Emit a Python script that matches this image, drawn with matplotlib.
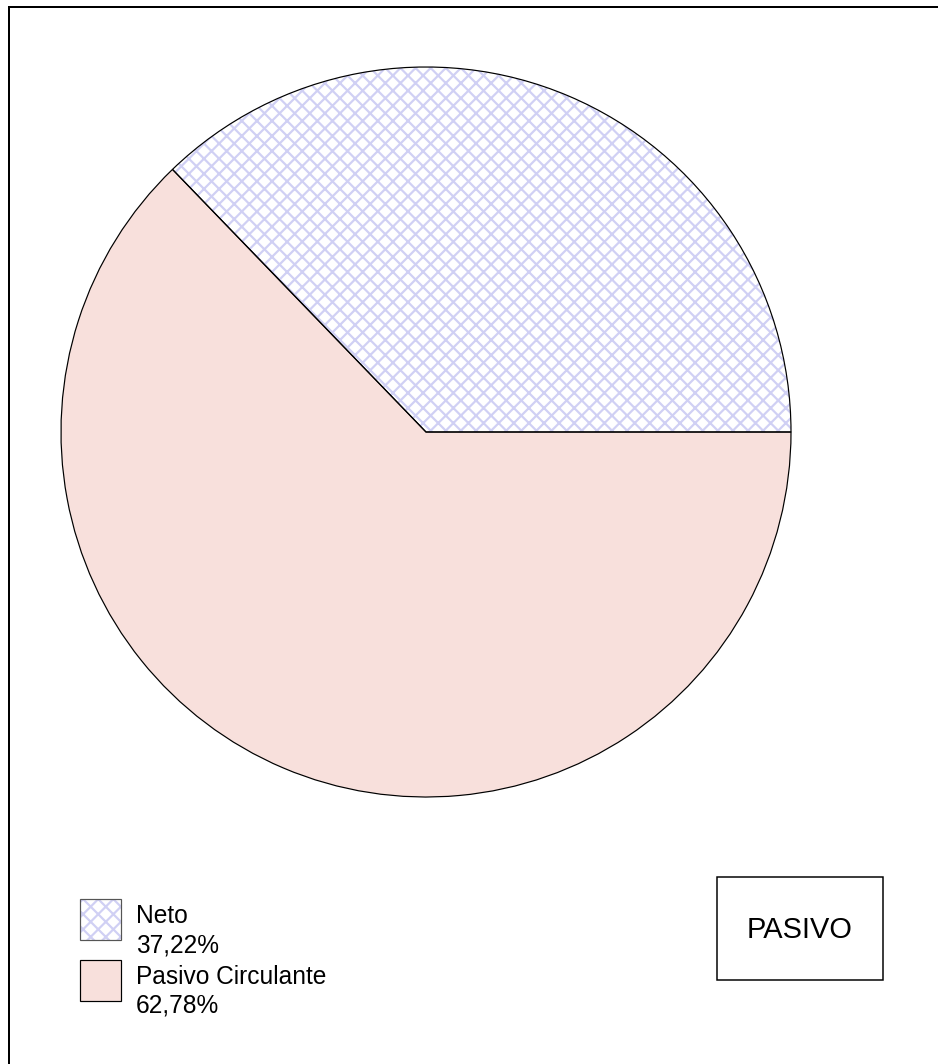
import matplotlib
matplotlib.use('Agg')
import matplotlib.pyplot as plt
from matplotlib.patches import Rectangle

# data
categories = ['Neto', 'Pasivo Circulante']
percents = [37.22, 62.78]
face_colors = ['white', '#F8E0DC']
hatches = ['xxx', None]
title_box = 'PASIVO'

W, H = 938, 1064
DPI = 136
HATCH_COLOR = '#D0D0F4'


def pt(px):
    # pixel size -> points at the chosen dpi
    return px * 72.0 / DPI


plt.rcParams['font.family'] = ['Liberation Sans', 'DejaVu Sans']
plt.rcParams['hatch.linewidth'] = pt(2.2)


def fy(y):
    # pixel row (from top) -> data y
    return H - y


def renderChart():
    fig = plt.figure(figsize=(W / DPI, H / DPI), dpi=DPI)
    ax = fig.add_axes([0, 0, 1, 1])

    # filled + hatched wedges (hatch colour follows edge colour)
    wedges, _ = ax.pie(percents, colors=face_colors, startangle=0,
                       counterclock=True, center=(426, fy(432)), radius=365,
                       wedgeprops=dict(linewidth=0, edgecolor=HATCH_COLOR))
    for w, h in zip(wedges, hatches):
        if h:
            w.set_hatch(h)

    # black outlines on top
    ax.pie(percents, colors=['none', 'none'], startangle=0,
           counterclock=True, center=(426, fy(432)), radius=365,
           wedgeprops=dict(linewidth=pt(1.2), edgecolor='black', fill=False))

    ax.set_xlim(0, W)
    ax.set_ylim(0, H)
    ax.set_aspect('auto')
    ax.axis('off')

    # outer frame (right and bottom run off the picture)
    ax.add_patch(Rectangle((9, fy(1100)), 1000, 1100 - 7, fill=False,
                           edgecolor='black', linewidth=pt(2)))

    # legend
    for i, (cat, p) in enumerate(zip(categories, percents)):
        top = 899 + i * 61
        ax.add_patch(Rectangle((80, fy(top + 41)), 41, 41,
                               facecolor=face_colors[i], linewidth=0))
        if hatches[i]:
            ax.add_patch(Rectangle((80, fy(top + 41)), 41, 41,
                                   facecolor='none', edgecolor=HATCH_COLOR,
                                   hatch=hatches[i], linewidth=0))
            edge = '#555555'
        else:
            edge = 'black'
        ax.add_patch(Rectangle((80, fy(top + 41)), 41, 41,
                               fill=False, edgecolor=edge, linewidth=pt(1.2)))
        pct = f'{p:.2f}'.replace('.', ',') + '%'
        ax.text(136, fy(top + 24), cat, fontsize=pt(24.5), va='baseline',
                ha='left', color='black')
        ax.text(136, fy(top + 53), pct, fontsize=pt(24.5), va='baseline',
                ha='left', color='black')

    # title box
    ax.add_patch(Rectangle((717, fy(980)), 166, 103, fill=False,
                           edgecolor='black', linewidth=pt(1.5)))
    ax.text(800, fy(930), title_box, fontsize=pt(29), ha='center',
            va='center', color='black')

    fig.savefig('out.png', dpi=DPI)


def main():
    renderChart()


if __name__ == "__main__":
    main()
